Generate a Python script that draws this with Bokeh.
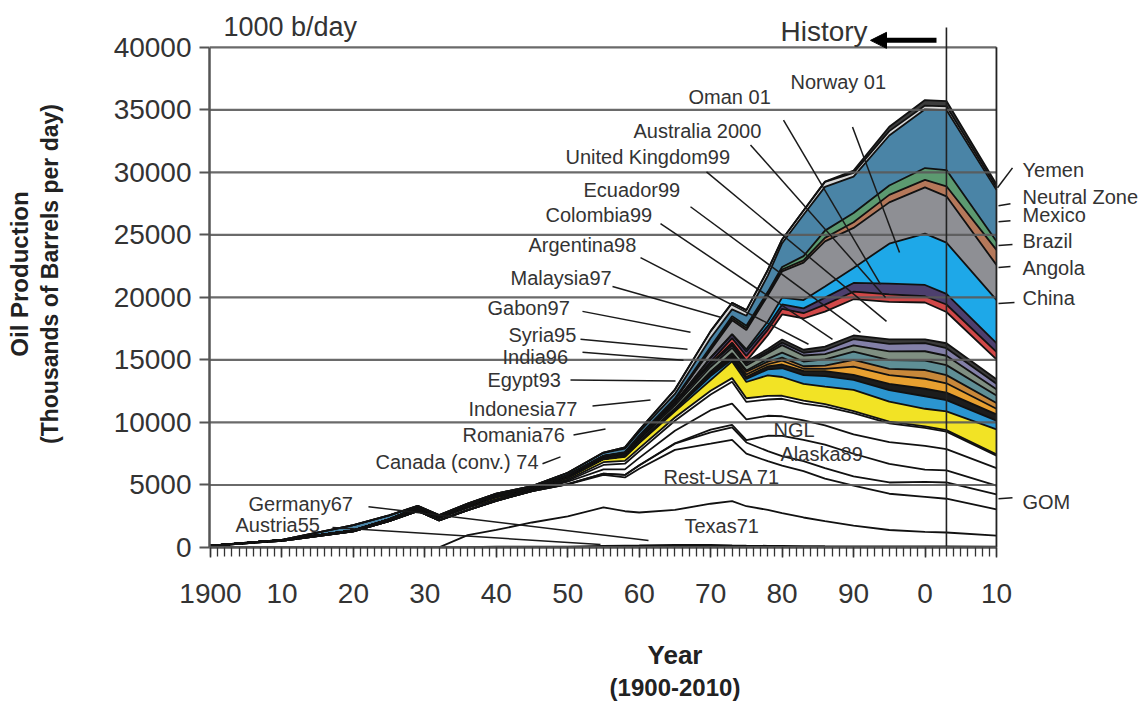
import math
from bokeh.plotting import figure
from bokeh.models import (ColumnDataSource, Label, Arrow, NormalHead, LinearAxis,
                          FixedTicker, SingleIntervalTicker, Range1d)
from bokeh.embed import file_html
from bokeh.resources import INLINE

# ---------------- data (thousand barrels per day) ----------------
years = [1900, 1910, 1920, 1925, 1929, 1932, 1936, 1940, 1945, 1950, 1955, 1958, 1960,
         1965, 1970, 1973, 1975, 1978, 1980, 1983, 1986, 1990, 1995, 2000, 2003, 2010]

austria   = [0, 0, 0, 0, 0, 0, 5, 15, 20, 35, 70, 60, 50, 55, 50, 45, 40, 35, 30, 25, 22, 22, 20, 20, 20, 15]
germany   = [0, 10, 10, 15, 15, 15, 30, 60, 50, 25, 60, 90, 110, 160, 150, 120, 110, 100, 95, 85, 80, 75, 60, 60, 60, 50]
texas     = [0, 0, 0, 0, 0, 0, 950, 1330, 1930, 2430, 3070, 2750, 2640, 2790, 3300, 3540, 3150, 2870, 2630, 2290, 2000, 1650, 1320, 1170, 1120, 885]
rest_usa  = [140, 530, 1280, 2100, 2900, 2150, 2000, 2330, 2500, 2550, 2600, 2700, 3500, 4800, 4800, 4900, 4200, 3900, 3800, 3700, 3400, 3200, 2900, 2800, 2700, 2100]
gom       = [0, 0, 0, 0, 0, 0, 0, 0, 0, 20, 100, 200, 250, 500, 900, 1000, 900, 800, 750, 800, 850, 750, 900, 1200, 1300, 1200]
alaska    = [0, 0, 0, 0, 0, 0, 0, 0, 0, 0, 0, 0, 20, 30, 230, 200, 190, 1230, 1620, 1710, 1870, 1800, 1480, 970, 970, 700]
ngl       = [0, 0, 0, 0, 0, 0, 0, 0, 0, 200, 350, 450, 600, 1000, 1550, 1700, 1650, 1600, 1570, 1550, 1550, 1550, 1750, 1900, 1700, 1400]
canada    = [2, 1, 1, 2, 3, 3, 4, 25, 25, 80, 350, 450, 520, 800, 1260, 1750, 1400, 1300, 1400, 1350, 1500, 1700, 1500, 1450, 1400, 1000]
romania   = [5, 25, 20, 45, 95, 150, 175, 115, 95, 90, 220, 230, 235, 260, 290, 290, 295, 290, 240, 230, 200, 160, 140, 125, 115, 100]
indonesia = [5, 30, 48, 60, 100, 100, 130, 160, 20, 130, 235, 320, 420, 490, 850, 1340, 1300, 1640, 1500, 1340, 1400, 1700, 1600, 1400, 1500, 2000]
egypt     = [0, 0, 3, 3, 5, 5, 4, 18, 27, 45, 35, 50, 65, 125, 330, 170, 240, 480, 700, 700, 830, 800, 920, 1000, 900, 700]
india     = [0, 0, 0, 0, 0, 0, 0, 0, 0, 5, 5, 8, 9, 60, 140, 145, 170, 230, 300, 350, 400, 400, 500, 600, 600, 500]
syria     = [0, 0, 0, 0, 0, 0, 0, 0, 0, 0, 0, 0, 0, 0, 85, 110, 190, 180, 300, 165, 190, 650, 700, 800, 750, 450]
gabon     = [0, 0, 0, 0, 0, 0, 0, 0, 0, 0, 0, 0, 15, 25, 110, 150, 225, 210, 250, 200, 250, 550, 500, 700, 650, 450]
malaysia  = [0, 0, 0, 0, 0, 0, 0, 0, 0, 0, 0, 0, 0, 0, 20, 90, 100, 220, 400, 380, 500, 650, 700, 750, 800, 600]
argentina = [0, 0, 4, 16, 25, 35, 40, 57, 60, 65, 85, 100, 175, 275, 390, 420, 395, 460, 600, 480, 430, 500, 700, 750, 750, 500]
colombia  = [0, 0, 0, 3, 55, 45, 50, 70, 63, 95, 110, 125, 150, 200, 220, 185, 160, 130, 200, 220, 300, 500, 600, 650, 600, 450]
ecuador   = [0, 0, 0, 2, 4, 4, 6, 6, 6, 7, 9, 8, 8, 8, 4, 210, 160, 200, 250, 240, 290, 300, 350, 300, 400, 350]
uk        = [0, 0, 0, 0, 0, 0, 0, 0, 0, 0, 0, 0, 0, 0, 0, 0, 30, 1100, 2000, 2500, 2800, 2900, 3000, 2950, 2500, 1600]
australia = [0, 0, 0, 0, 0, 0, 0, 0, 0, 0, 0, 0, 0, 5, 180, 380, 410, 430, 450, 420, 560, 600, 600, 500, 600, 600]
oman      = [0, 0, 0, 0, 0, 0, 0, 0, 0, 0, 0, 0, 0, 0, 330, 290, 340, 315, 350, 390, 560, 700, 860, 900, 850, 700]
norway    = [0, 0, 0, 0, 0, 0, 0, 0, 0, 0, 0, 0, 0, 0, 0, 30, 190, 350, 550, 660, 900, 1200, 3200, 4100, 4100, 3450]
china     = [0, 0, 0, 0, 0, 0, 0, 0, 0, 0, 20, 45, 100, 230, 600, 1100, 1550, 2080, 2100, 3000, 3600, 3200, 3300, 3700, 3700, 2800]
angola    = [0, 0, 0, 0, 0, 0, 0, 0, 0, 0, 0, 0, 1, 13, 100, 160, 165, 130, 150, 180, 280, 450, 600, 600, 800, 1200]
brazil    = [0, 0, 0, 0, 0, 0, 0, 0, 0, 1, 6, 50, 80, 95, 165, 170, 175, 165, 200, 340, 580, 750, 750, 950, 1300, 700]
mexico    = [0, 10, 430, 330, 122, 90, 113, 120, 120, 200, 250, 270, 300, 360, 700, 550, 800, 1300, 1900, 3300, 3500, 2900, 4000, 4700, 4800, 4100]
neutral   = [0, 0, 0, 0, 0, 0, 0, 0, 0, 0, 20, 100, 150, 350, 550, 520, 450, 450, 300, 350, 400, 300, 350, 300, 300, 200]
yemen     = [0, 0, 0, 0, 0, 0, 0, 0, 0, 0, 0, 0, 0, 0, 0, 0, 0, 0, 0, 0, 20, 180, 350, 440, 420, 250]

series = ["Austria", "Germany", "Texas", "Rest-USA", "GOM", "Alaska", "NGL", "Canada", "Romania",
          "Indonesia", "Egypt", "India", "Syria", "Gabon", "Malaysia", "Argentina", "Colombia",
          "Ecuador", "United Kingdom", "Australia", "Oman", "Norway", "China", "Angola", "Brazil",
          "Mexico", "Neutral Zone", "Yemen"]
values = [austria, germany, texas, rest_usa, gom, alaska, ngl, canada, romania, indonesia, egypt,
          india, syria, gabon, malaysia, argentina, colombia, ecuador, uk, australia, oman, norway,
          china, angola, brazil, mexico, neutral, yemen]
colors = ["#ffffff", "#ffffff", "#ffffff", "#ffffff", "#ffffff", "#ffffff", "#ffffff", "#ffffff",
          "#ffffff", "#f2e325", "#2b95d0", "#1c1c1c", "#e8a030", "#c8883a", "#5f8f96", "#7f8f82",
          "#8380a8", "#3a3a3a", "#ffffff", "#d14848", "#4d3f6e", "#1ea8e8", "#8e8f94", "#b5785a",
          "#5c9a70", "#4a84a6", "#d8d8d8", "#3c3c3c"]

y_ticks = [0, 5000, 10000, 15000, 20000, 25000, 30000, 35000, 40000]
x_tick_labels = {1900: "1900", 1910: "10", 1920: "20", 1930: "30", 1940: "40", 1950: "50",
                 1960: "60", 1970: "70", 1980: "80", 1990: "90", 2000: "0", 2010: "10"}
history_year = 2003
end_year = 2010

# ---------------- layout (canvas pixels) ----------------
W, H = 1140, 703
ML, MR, MT, MB = 209, 0, 0, 154
SX = 7.145              # pixels per year
SY = 502 / 40000        # pixels per kb/d
X0 = 1900 - 1 / SX
X1 = X0 + (W - ML - MR) / SX
Y0 = 0
Y1 = (H - MB) / SY
FONT = "Liberation Sans"


def dx(px):
    return X0 + (px - ML) / SX


def dy(py):
    return (H - MB - py) / SY


src = ColumnDataSource(dict(year=years, **{n: v for n, v in zip(series, values)}))

p = figure(width=W, height=H, x_range=Range1d(X0, X1), y_range=Range1d(Y0, Y1),
           output_backend="svg", toolbar_location=None,
           min_border_left=ML, min_border_right=MR, min_border_top=MT, min_border_bottom=MB)
p.outline_line_color = None
p.xgrid.visible = False
p.ygrid.visible = False
p.background_fill_color = "white"
p.border_fill_color = "white"

p.varea_stack(stackers=series, x="year", color=colors, source=src)
p.vline_stack(stackers=series, x="year", line_color="#111111", line_width=1.8, source=src)

# horizontal guide lines (drawn above the areas, as in the original)
p.segment(x0=[X0] * len(y_ticks), y0=y_ticks, x1=[end_year] * len(y_ticks), y1=y_ticks,
          line_color="#5a5a5a", line_width=2.2, line_alpha=0.9)
# right border and "history" line
p.segment(x0=[end_year], y0=[0], x1=[end_year], y1=[y_ticks[-1]], line_color="#222222", line_width=1.8)
p.segment(x0=[history_year], y0=[0], x1=[history_year], y1=[dy(27)], line_color="#222222", line_width=1.6)

# axes
xa = p.xaxis[0]
xa.ticker = SingleIntervalTicker(interval=10, num_minor_ticks=10)
xa.bounds = (X0, end_year + 0.05)
xa.major_label_overrides = x_tick_labels
xa.axis_line_color = "#555555"
xa.axis_line_width = 2.5
xa.major_tick_line_color = "#333333"
xa.minor_tick_line_color = "#333333"
xa.major_tick_line_width = 1.5
xa.minor_tick_line_width = 1.3
xa.major_tick_out = 10
xa.major_tick_in = 0
xa.minor_tick_out = 9
xa.minor_tick_in = 0
xa.major_label_text_font = FONT
xa.major_label_text_font_size = "28px"
xa.major_label_text_color = "#333333"
xa.major_label_standoff = 26
xa.axis_label = "Year"
xa.axis_label_text_font = FONT
xa.axis_label_text_font_size = "26px"
xa.axis_label_text_font_style = "bold"
xa.axis_label_text_color = "#222222"
xa.axis_label_standoff = 34

ya = p.yaxis[0]
ya.ticker = FixedTicker(ticks=y_ticks)
ya.bounds = (0, y_ticks[-1])
ya.major_label_overrides = {t: str(t) for t in y_ticks}
ya.axis_line_color = "#555555"
ya.axis_line_width = 2.5
ya.major_tick_line_color = "#555555"
ya.major_tick_line_width = 2.2
ya.major_tick_out = 10
ya.major_tick_in = 0
ya.minor_tick_out = 0
ya.major_label_text_font = FONT
ya.major_label_text_font_size = "28px"
ya.major_label_text_color = "#333333"
ya.major_label_standoff = 8


def title_axis(text, size, standoff, side, bounds):
    ax = LinearAxis(ticker=FixedTicker(ticks=[]), bounds=bounds, axis_line_color=None,
                    major_tick_line_color=None, minor_tick_line_color=None,
                    major_label_text_font_size="0px", axis_label=text,
                    axis_label_text_font=FONT, axis_label_text_font_size=size,
                    axis_label_text_font_style="bold", axis_label_text_color="#222222",
                    axis_label_standoff=standoff)
    p.add_layout(ax, side)


title_axis("(1900-2010)", "24px", 1, "below", (X0, end_year + 0.05))
yc = dy(262)
title_axis("(Thousands of Barrels per day)", "23px", 48, "left", (yc - 100, yc + 100))
title_axis("Oil Production", "24px", 1, "left", (yc - 100, yc + 100))

# leader lines (pixel positions on the page)
leaders = [
    ((852, 127), (899, 253)), ((783, 120), (880, 285)), ((750, 145), (885, 298)),
    ((706, 172), (886, 322)), ((690, 207), (860, 333)), ((660, 224), (832, 340)),
    ((640, 258), (808, 345)), ((612, 287), (720, 318)), ((582, 312), (690, 333)),
    ((580, 340), (687, 350)), ((582, 353), (683, 361)), ((570, 381), (675, 382)),
    ((592, 407), (650, 401)), ((573, 436), (605, 430)), ((542, 465), (560, 458)),
    ((368, 508), (648, 542)), ((332, 529), (600, 546)),
    ((997, 188), (1012, 168)), ((998, 206), (1010, 204)), ((998, 222), (1010, 221)),
    ((998, 246), (1012, 245)), ((998, 268), (1010, 267)), ((998, 304), (1014, 303)),
    ((998, 500), (1012, 499)),
]
p.segment(x0=[dx(a[0]) for a, b in leaders], y0=[dy(a[1]) for a, b in leaders],
          x1=[dx(b[0]) for a, b in leaders], y1=[dy(b[1]) for a, b in leaders],
          line_color="#1a1a1a", line_width=1.5)

# arrow next to "History"
p.add_layout(Arrow(end=NormalHead(size=16, fill_color="black", line_color="black"),
                   x_start=dx(936), y_start=dy(40), x_end=dx(870), y_end=dy(40),
                   line_color="black", line_width=5))

labels = [
    ("1000 b/day", 223, 27, 27), ("History", 780, 31, 28),
    ("Norway 01", 790, 82, 20), ("Oman 01", 688, 97, 20), ("Australia 2000", 633, 131, 20),
    ("United Kingdom99", 565, 157, 20), ("Ecuador99", 583, 190, 20), ("Colombia99", 545, 215, 20),
    ("Argentina98", 528, 245, 20), ("Malaysia97", 510, 279, 20), ("Gabon97", 487, 309, 20),
    ("Syria95", 508, 336, 20), ("India96", 502, 358, 20), ("Egypt93", 487, 381, 20),
    ("Indonesia77", 468, 410, 20), ("Romania76", 462, 436, 20), ("Canada (conv.) 74", 375, 463, 20),
    ("Germany67", 248, 505, 20), ("Austria55", 235, 526, 20), ("Texas71", 684, 527, 20),
    ("Rest-USA 71", 663, 478, 20), ("Alaska89", 780, 455, 20), ("NGL", 773, 431, 20),
    ("Yemen", 1022, 170, 20), ("Neutral Zone", 1022, 197, 20), ("Mexico", 1022, 215, 20),
    ("Brazil", 1022, 241, 20), ("Angola", 1022, 268, 20), ("China", 1022, 299, 20),
    ("GOM", 1022, 503, 20),
]
for text, lx, ly, fs in labels:
    p.add_layout(Label(x=dx(lx), y=dy(ly), text=text, text_align="left", text_baseline="middle",
                       text_font=FONT, text_font_size=f"{fs}px", text_color="#333333"))

open("out.html", "w").write(file_html(p, INLINE))
